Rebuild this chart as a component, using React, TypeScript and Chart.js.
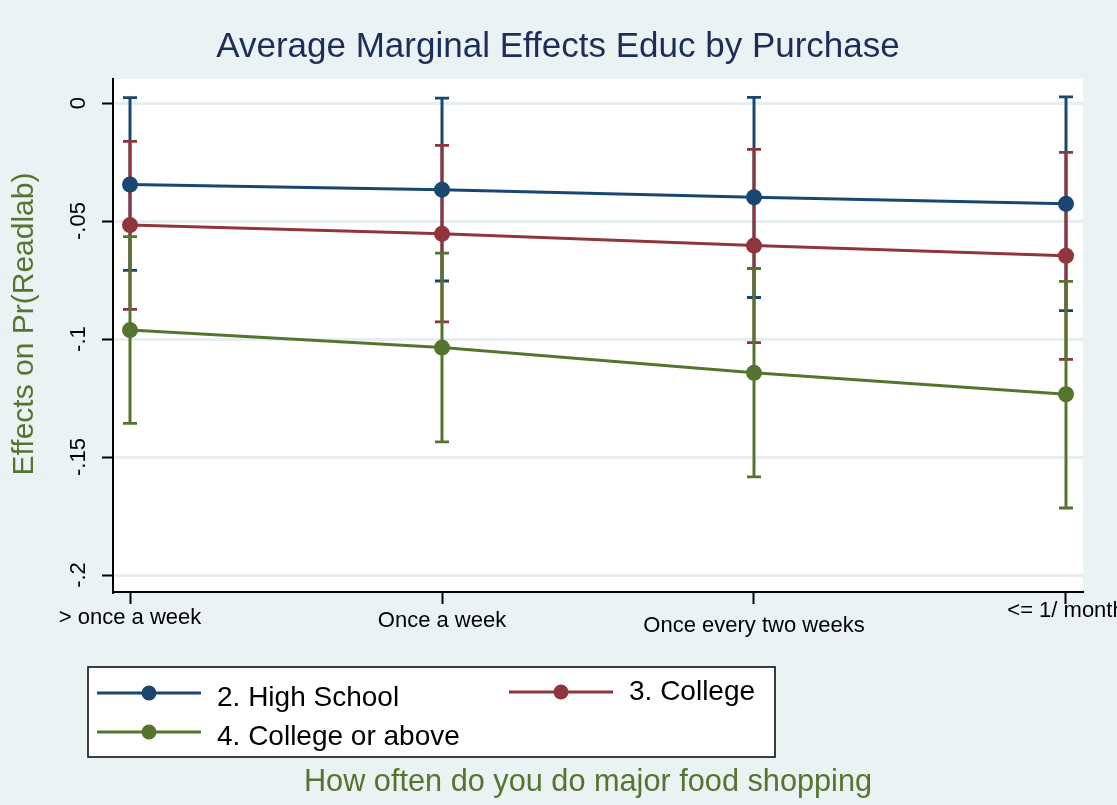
import React, { useEffect, useRef } from "react";
import { Chart, registerables } from "chart.js";

Chart.register(...registerables);

// ---- data ----
const categories = ["> once a week", "Once a week", "Once every two weeks", "<= 1/ month"];
const seriesNames = ["2. High School", "3. College", "4. College or above"];

const highSchool = [-0.0345, -0.0367, -0.0399, -0.0427];
const highSchoolLo = [-0.0709, -0.0754, -0.0824, -0.088];
const highSchoolHi = [0.0023, 0.0021, 0.0024, 0.0026];

const college = [-0.0517, -0.0554, -0.0604, -0.0647];
const collegeLo = [-0.0874, -0.0927, -0.1015, -0.1086];
const collegeHi = [-0.0162, -0.0179, -0.0196, -0.0209];

const collegeAbove = [-0.0962, -0.1036, -0.1143, -0.1234];
const collegeAboveLo = [-0.1357, -0.1436, -0.1584, -0.1716];
const collegeAboveHi = [-0.0566, -0.0636, -0.0701, -0.0756];

const yTickValues = [0, -0.05, -0.1, -0.15, -0.2];
const yTickLabels = ["0", "-.05", "-.1", "-.15", "-.2"];

const titleText = "Average Marginal Effects Educ by Purchase";
const yTitleText = "Effects on Pr(Readlab)";
const xTitleText = "How often do you do major food shopping";

// ---- styles ----
const BG = "#EAF2F3";
const GRID = "#E6EEF0";
const NAVY = "#1A476F";
const MAROON = "#90353B";
const GREEN = "#55752F";
const TITLE_COLOR = "#1E2C5A";
const FONT = '"Liberation Sans", Arial, Helvetica, sans-serif';
const colors = [NAVY, MAROON, GREEN];

export default function App() {
  const ref = useRef<HTMLCanvasElement>(null);

  useEffect(() => {
    document.body.style.margin = "0";
    document.body.style.background = BG;
    const canvas = ref.current!;
    const values = [highSchool, college, collegeAbove];
    const los = [highSchoolLo, collegeLo, collegeAboveLo];
    const his = [highSchoolHi, collegeHi, collegeAboveHi];

    const bgPlugin = {
      id: "bg",
      beforeDraw(chart: any) {
        const { ctx, chartArea } = chart;
        ctx.save();
        ctx.fillStyle = BG;
        ctx.fillRect(0, 0, chart.width, chart.height);
        ctx.fillStyle = "#FFFFFF";
        ctx.fillRect(chartArea.left, chartArea.top, chartArea.right - chartArea.left, chartArea.bottom - chartArea.top);
        ctx.restore();
      },
    };

    const errorBarPlugin = {
      id: "errbars",
      beforeDatasetsDraw(chart: any) {
        const { ctx } = chart;
        const xs = chart.scales.x;
        const ys = chart.scales.y;
        ctx.save();
        for (let s = 0; s < values.length; s++) {
          ctx.strokeStyle = colors[s];
          for (let i = 0; i < categories.length; i++) {
            const x = xs.getPixelForValue(i);
            const y1 = ys.getPixelForValue(his[s][i]);
            const y2 = ys.getPixelForValue(los[s][i]);
            ctx.lineWidth = 3;
            ctx.beginPath();
            ctx.moveTo(x, y1);
            ctx.lineTo(x, y2);
            ctx.stroke();
            ctx.lineWidth = 2.8;
            ctx.beginPath();
            ctx.moveTo(x - 7, y1);
            ctx.lineTo(x + 7, y1);
            ctx.moveTo(x - 7, y2);
            ctx.lineTo(x + 7, y2);
            ctx.stroke();
          }
        }
        ctx.restore();
      },
    };

    const textPlugin = {
      id: "texts",
      afterDraw(chart: any) {
        const { ctx, chartArea } = chart;
        const xs = chart.scales.x;
        const ys = chart.scales.y;
        ctx.save();
        // title
        ctx.fillStyle = TITLE_COLOR;
        ctx.font = `35px ${FONT}`;
        ctx.textAlign = "center";
        ctx.textBaseline = "alphabetic";
        ctx.fillText(titleText, 558, 57);

        // y tick labels (rotated)
        ctx.fillStyle = "#000000";
        ctx.font = `22px ${FONT}`;
        for (let i = 0; i < yTickValues.length; i++) {
          const y = ys.getPixelForValue(yTickValues[i]);
          ctx.save();
          ctx.translate(chartArea.left - 28, y);
          ctx.rotate(-Math.PI / 2);
          ctx.textAlign = "center";
          ctx.fillText(yTickLabels[i], 0, 0);
          ctx.restore();
        }

        // x tick labels (Stata staggering)
        const dy = [32, 35, 40, 25];
        ctx.textAlign = "center";
        for (let i = 0; i < categories.length; i++) {
          const x = xs.getPixelForValue(i);
          ctx.fillText(categories[i], x, chartArea.bottom + dy[i]);
        }

        // axis titles
        ctx.fillStyle = GREEN;
        ctx.font = `30px ${FONT}`;
        ctx.save();
        ctx.translate(33, 324);
        ctx.rotate(-Math.PI / 2);
        ctx.textAlign = "center";
        ctx.fillText(yTitleText, 0, 0);
        ctx.restore();
        ctx.font = `30.7px ${FONT}`;
        ctx.textAlign = "center";
        ctx.fillText(xTitleText, 588, 791);

        // legend
        const bx = 88, by = 667, bw = 687, bh = 90;
        ctx.fillStyle = "#FFFFFF";
        ctx.fillRect(bx, by, bw, bh);
        ctx.strokeStyle = "#000000";
        ctx.lineWidth = 1.5;
        ctx.strokeRect(bx, by, bw, bh);
        const items = [
          { lx: 97, ly: 693, tx: 217, ty: 706 },
          { lx: 509, ly: 692, tx: 629, ty: 700 },
          { lx: 97, ly: 732, tx: 217, ty: 745 },
        ];
        ctx.font = `28px ${FONT}`;
        ctx.textAlign = "left";
        for (let s = 0; s < seriesNames.length; s++) {
          const it = items[s];
          ctx.strokeStyle = colors[s];
          ctx.lineWidth = 3;
          ctx.beginPath();
          ctx.moveTo(it.lx, it.ly);
          ctx.lineTo(it.lx + 104, it.ly);
          ctx.stroke();
          ctx.fillStyle = colors[s];
          ctx.beginPath();
          ctx.arc(it.lx + 52, it.ly, 7.5, 0, Math.PI * 2);
          ctx.fill();
          ctx.fillStyle = "#000000";
          ctx.fillText(seriesNames[s], it.tx, it.ty);
        }
        ctx.restore();
      },
    };

    const toPts = (arr: number[]) => arr.map((y, i) => ({ x: i, y }));

    const chart = new Chart(canvas, {
      type: "line",
      data: {
        datasets: values.map((v, s) => ({
          label: seriesNames[s],
          data: toPts(v),
          borderColor: colors[s],
          backgroundColor: colors[s],
          borderWidth: 3,
          pointRadius: 8,
          pointBorderWidth: 0,
          pointBackgroundColor: colors[s],
          tension: 0,
          fill: false,
        })),
      },
      options: {
        animation: false,
        responsive: false,
        devicePixelRatio: 1,
        events: [],
        layout: { padding: { top: 79, right: 34, left: 0, bottom: 201 } },
        plugins: {
          legend: { display: false },
          title: { display: false },
          tooltip: { enabled: false },
        },
        scales: {
          x: {
            type: "linear",
            min: -0.0545,
            max: 3.0545,
            afterBuildTicks: (scale: any) => {
              scale.ticks = categories.map((_, i) => ({ value: i }));
            },
            afterFit: (scale: any) => {
              scale.height = 12;
            },
            ticks: { display: false, autoSkip: false },
            grid: {
              drawOnChartArea: false,
              drawTicks: true,
              tickLength: 12,
              tickColor: "#000000",
              tickWidth: 2,
              color: "#000000",
            },
            border: { display: true, color: "#000000", width: 2 },
          },
          y: {
            type: "linear",
            min: -0.2072,
            max: 0.0102,
            afterBuildTicks: (scale: any) => {
              scale.ticks = yTickValues.map((v) => ({ value: v }));
            },
            afterFit: (scale: any) => {
              scale.width = 113;
            },
            ticks: { display: false, autoSkip: false },
            grid: {
              drawOnChartArea: true,
              drawTicks: true,
              tickLength: 11,
              tickColor: "#000000",
              tickWidth: 2,
              color: GRID,
              lineWidth: 3,
            },
            border: { display: true, color: "#000000", width: 2 },
          },
        },
      },
      plugins: [bgPlugin, errorBarPlugin, textPlugin],
    } as any);

    return () => chart.destroy();
  }, []);

  return (
    <canvas
      ref={ref}
      width={1117}
      height={805}
      style={{ position: "absolute", left: 0, top: 0, display: "block", width: 1117, height: 805 }}
    />
  );
}
